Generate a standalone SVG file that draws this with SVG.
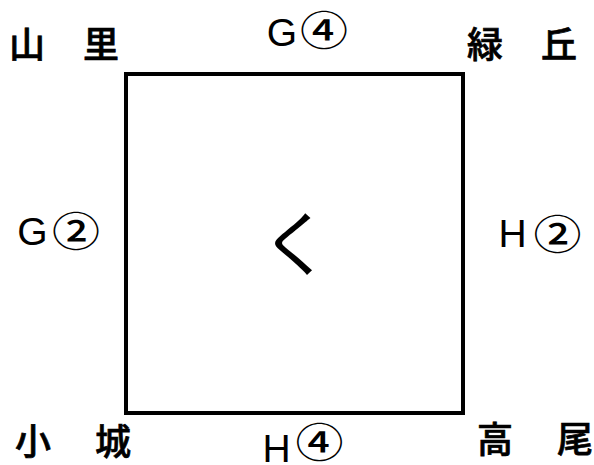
<svg xmlns="http://www.w3.org/2000/svg" width="594" height="465" viewBox="0 0 594 465">
<style>
.cjk{font-family:"Noto Sans CJK JP",sans-serif;font-size:36px;font-weight:500;fill:#000;stroke:#000;stroke-width:0.7px;text-anchor:middle}
.lat{font-family:"Liberation Sans",sans-serif;font-size:39px;fill:#000;text-anchor:middle}
.circ{font-family:"Noto Sans CJK JP",sans-serif;font-size:40px;font-weight:500;fill:#000;text-anchor:middle}
</style>
<rect width="594" height="465" fill="#fff"/>
<g id="square"><rect x="126" y="74" width="337" height="339" fill="none" stroke="#000" stroke-width="4"/></g>
<g id="center"><text x="296" y="269.5" style="font-family:'Noto Sans CJK JP',sans-serif;font-size:71px;text-anchor:middle">く</text></g>
<g id="yamazato"><text class="cjk" x="27" y="58">山</text><text class="cjk" x="101" y="58">里</text></g>
<g id="midorigaoka"><text class="cjk" x="485" y="58">緑</text><text class="cjk" x="559" y="58">丘</text></g>
<g id="kojo"><text class="cjk" x="33" y="455">小</text><text class="cjk" x="113" y="455">城</text></g>
<g id="takao"><text class="cjk" x="495" y="453">高</text><text class="cjk" x="575" y="453">尾</text></g>
<g id="g4"><text class="lat" x="282" y="46">G</text><text class="circ" transform="translate(324 45) scale(1.2 1)">④</text></g>
<g id="g2"><text class="lat" x="32.5" y="245">G</text><text class="circ" transform="translate(76 245.5) scale(1.2 1)">②</text></g>
<g id="h2"><text class="lat" x="512.5" y="247">H</text><text class="circ" transform="translate(557.5 248.5) scale(1.2 1)">②</text></g>
<g id="h4"><text class="lat" x="276.5" y="462">H</text><text class="circ" transform="translate(319.5 457) scale(1.2 1)">④</text></g>
</svg>
